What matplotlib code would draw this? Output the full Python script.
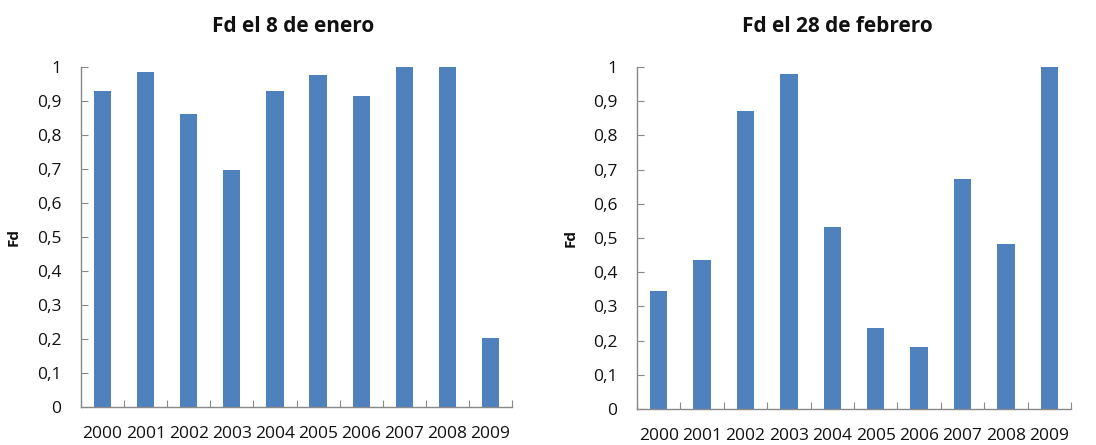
import matplotlib
matplotlib.use("Agg")
import matplotlib.pyplot as plt
from matplotlib.ticker import FuncFormatter, FixedLocator

years = ["2000", "2001", "2002", "2003", "2004", "2005", "2006", "2007", "2008", "2009"]
fd_enero = [0.929, 0.986, 0.863, 0.697, 0.929, 0.976, 0.915, 1.0, 1.0, 0.204]
fd_febrero = [0.346, 0.437, 0.872, 0.980, 0.531, 0.238, 0.181, 0.673, 0.483, 1.0]
titles = ["Fd el 8 de enero", "Fd el 28 de febrero"]
yticks = [0, 0.1, 0.2, 0.3, 0.4, 0.5, 0.6, 0.7, 0.8, 0.9, 1.0]

plt.rcParams['font.family'] = ['Open Sans', 'DejaVu Sans']
W, H = 1096, 445
fig = plt.figure(figsize=(W / 100, H / 100), dpi=100)

bar_color = "#4F81BD"
spine_color = "#898989"

# axes boxes in pixels: (left, right, top, bottom)
boxes = [(81, 512, 67, 407), (637, 1071, 67, 409)]
title_x = [293, 837]
ylabel_x = [14, 571]

def fmt(v, pos):
    if abs(v) < 1e-9:
        return "0"
    if abs(v - 1) < 1e-9:
        return "1"
    return ("%.1f" % v).replace(".", ",")

for i, (vals, ttl) in enumerate(zip([fd_enero, fd_febrero], titles)):
    l, r, t, b = boxes[i]
    ax = fig.add_axes([l / W, 1 - b / H, (r - l) / W, (b - t) / H])
    x = list(range(len(years)))
    ax.bar(x, vals, width=0.4, color=bar_color, edgecolor="none", zorder=2)
    ax.set_xlim(-0.5, len(years) - 0.5)
    ax.set_ylim(0, 1)
    for s in ["top", "right"]:
        ax.spines[s].set_visible(False)
    for s in ["left", "bottom"]:
        ax.spines[s].set_color(spine_color)
        ax.spines[s].set_linewidth(1.0)
    ax.set_yticks(yticks)
    ax.yaxis.set_major_formatter(FuncFormatter(fmt))
    ax.tick_params(axis="y", direction="in", length=5, color=spine_color,
                   labelsize=12.5, pad=14, labelcolor="#111111")
    # category ticks between bars, labels centered
    ax.xaxis.set_major_locator(FixedLocator([k + 0.5 for k in range(-1, len(years))]))
    ax.xaxis.set_major_formatter(FuncFormatter(lambda v, p: ""))
    ax.xaxis.set_minor_locator(FixedLocator(x))
    ax.set_xticklabels(years, minor=True)
    ax.tick_params(axis="x", which="major", direction="in", length=5, color=spine_color)
    ax.tick_params(axis="x", which="minor", length=0, labelsize=12.5, pad=14,
                   labelcolor="#111111")
    fig.text(title_x[i] / W, 1 - 27 / H, ttl, ha="center", va="center",
             fontsize=15, fontweight="bold", color="#111111")
    fig.text(ylabel_x[i] / W, 1 - ((t + b) / 2) / H, "Fd", rotation=90,
             ha="center", va="center", fontsize=11, fontweight="bold", color="#111111")

fig.savefig("out.png", dpi=100, facecolor="white")
